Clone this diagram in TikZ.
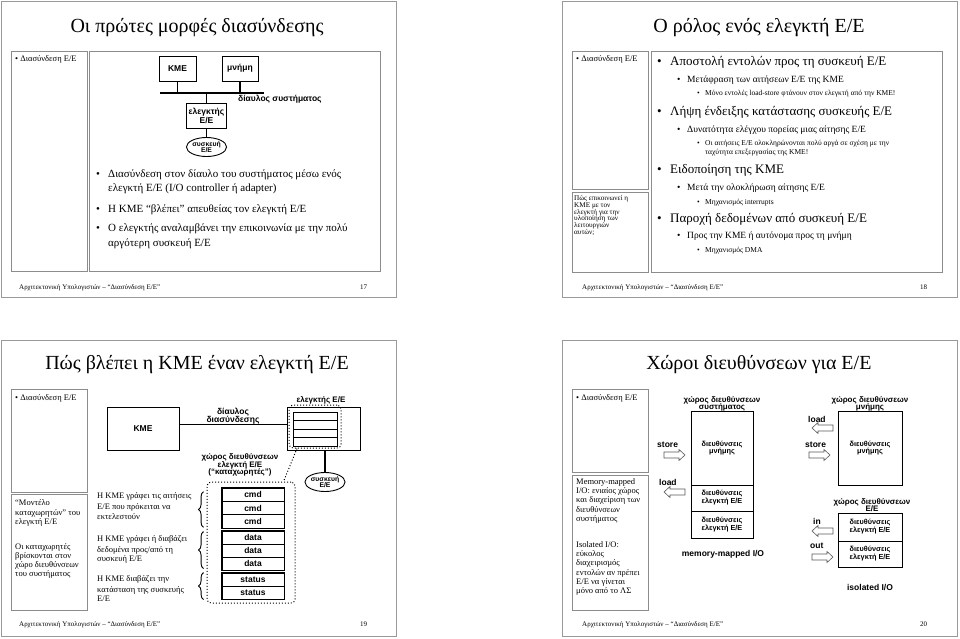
\documentclass[tikz,border=0pt]{standalone}
\usepackage{fontspec}
\setmainfont{Liberation Serif}
\newfontfamily\lsans{Liberation Sans}
\usetikzlibrary{decorations.pathreplacing,shapes.geometric}
\newcommand{\harrR}[1]{\draw[hollow] (#1) ++(0,-3) -- ++(15,0) -- ++(0,-2.5) -- ++(6,5.5) -- ++(-6,5.5) -- ++(0,-2.5) -- ++(-15,0) -- cycle;}
\newcommand{\harrL}[1]{\draw[hollow] (#1) ++(0,-3) -- ++(-15,0) -- ++(0,-2.5) -- ++(-6,5.5) -- ++(6,5.5) -- ++(0,-2.5) -- ++(15,0) -- cycle;}
\begin{document}
\begin{tikzpicture}[x=1pt,y=-1pt,
  frame/.style={draw=black!40,line width=1},
  pbox/.style={draw=black!45,line width=0.7},
  ttl/.style={anchor=base,inner sep=0,font=\fontsize{20}{24}\selectfont},
  foot/.style={anchor=base west,inner sep=0,font=\fontsize{7}{8}\selectfont},
  side/.style={anchor=base west,inner sep=0,font=\fontsize{8.5}{9}\selectfont},
  note/.style={anchor=base west,inner sep=0,font=\fontsize{8.5}{9}\selectfont},
  qst/.style={anchor=base west,inner sep=0,font=\fontsize{7.2}{7}\selectfont},
  body/.style={anchor=base west,inner sep=0,font=\fontsize{11}{13}\selectfont},
  lvA/.style={anchor=base west,inner sep=0,font=\fontsize{13}{15}\selectfont},
  lvB/.style={anchor=base west,inner sep=0,font=\fontsize{9.5}{11}\selectfont},
  lvC/.style={anchor=base west,inner sep=0,font=\fontsize{7.5}{9}\selectfont},
  lab/.style={inner sep=0,align=center,font=\lsans\bfseries\fontsize{8.5}{7}\selectfont},
  lab2/.style={inner sep=0,align=center,font=\lsans\bfseries\fontsize{8}{7}\selectfont},
  blk/.style={draw,line width=0.9,inner sep=0,align=center,font=\lsans\bfseries\fontsize{8.5}{7}\selectfont},
  dev/.style={draw,ellipse,line width=0.9,inner sep=0,align=center,minimum width=40pt,minimum height=19pt,font=\lsans\bfseries\fontsize{6.8}{6.5}\selectfont},
  reg/.style={draw,line width=0.9,inner sep=0,minimum width=62pt,minimum height=13.3pt,font=\lsans\bfseries\fontsize{8.5}{9}\selectfont},
  rrow/.style={draw,line width=0.8,inner sep=0,minimum width=44pt,minimum height=8.5pt},
  abox/.style={draw,line width=0.9,inner sep=0,align=center,minimum width=62pt,font=\lsans\bfseries\fontsize{7.3}{6.5}\selectfont},
  conn/.style={line width=1.2},
  hollow/.style={draw=black!65,fill=white,line width=0.6},
  dots/.style={draw,dotted,line width=1,rounded corners=4pt},
  brc/.style={decorate,decoration={brace,amplitude=5pt},line width=0.9},
]
\useasboundingbox (0,0) rectangle (960,638);

% ---------------- Slide 17 ----------------
\draw[frame] (1,1) rectangle (396,297);
\node[ttl] (t1) at (197,32) {Οι πρώτες μορφές διασύνδεσης};
\draw[pbox] (11,51) rectangle (87,271);
\draw[pbox] (89,51) rectangle (380,271);
\node[side] (s1) at (15,61) {• Διασύνδεση Ε/Ε};
\node[blk,minimum width=37pt,minimum height=25pt] (kme1) at (177.5,68.5) {ΚΜΕ};
\node[blk,minimum width=36pt,minimum height=25pt] (mem1) at (240,68.5) {μνήμη};
\coordinate (busL) at (160,93);
\coordinate (busR) at (264,93);
\draw[line width=2] (busL) -- (busR);
\node[lab,anchor=base west] (bus1) at (238,101) {δίαυλος συστήματος};
\draw[conn] (kme1.south) -- (kme1.south |- busL);
\draw[conn] (mem1.south) -- (mem1.south |- busL);
\node[blk,minimum width=40pt,minimum height=25pt] (ctl1) at (206.5,115.5) {ελεγκτής\\Ε/Ε};
\draw[conn] (ctl1.north |- busL) -- (ctl1.north);
\node[dev] (dev1) at (206.5,147) {συσκευή\\Ε/Ε};
\draw[conn] (ctl1.south) -- (dev1.north);
\node[body] (b1) at (96,177) {•};
\node[body] (b1a) at (108,177) {Διασύνδεση στον δίαυλο του συστήματος μέσω ενός};
\node[body] (b1b) at (108,191) {ελεγκτή Ε/Ε (I/O controller ή adapter)};
\node[body] (b2) at (96,212) {•};
\node[body] (b2a) at (108,212) {Η ΚΜΕ “βλέπει” απευθείας τον ελεγκτή Ε/Ε};
\node[body] (b3) at (96,231) {•};
\node[body] (b3a) at (108,231) {Ο ελεγκτής αναλαμβάνει την επικοινωνία με την πολύ};
\node[body] (b3b) at (108,246) {αργότερη συσκευή Ε/Ε};
\node[foot] (f1) at (19,289) {Αρχιτεκτονική Υπολογιστών – “Διασύνδεση Ε/Ε”};
\node[foot] (n1) at (360,289) {17};

% ---------------- Slide 18 ----------------
\draw[frame] (562,1) rectangle (957,297);
\node[ttl] (t2) at (759,32) {Ο ρόλος ενός ελεγκτή Ε/Ε};
\draw[pbox] (572,51) rectangle (648,189);
\draw[pbox] (572,192) rectangle (648,272);
\draw[pbox] (651,51) rectangle (942,272);
\node[side] (s2) at (576,61) {• Διασύνδεση Ε/Ε};
\node[qst] (q1) at (574,200) {Πώς επικοινωνεί η};
\node[qst] (q2) at (574,207) {ΚΜΕ με τον};
\node[qst] (q3) at (574,214) {ελεγκτή για την};
\node[qst] (q4) at (574,220.7) {υλοποίηση των};
\node[qst] (q5) at (574,227.3) {λειτουργιών};
\node[qst] (q6) at (574,234) {αυτών;};
\node[lvA] (a1) at (657,65) {•};
\node[lvA] (a1t) at (670,65) {Αποστολή εντολών προς τη συσκευή Ε/Ε};
\node[lvB] (a2) at (677,82) {•};
\node[lvB] (a2t) at (687,82) {Μετάφραση των αιτήσεων Ε/Ε της ΚΜΕ};
\node[lvC] (a3) at (697,95) {•};
\node[lvC] (a3t) at (705,95) {Μόνο εντολές load-store φτάνουν στον ελεγκτή από την ΚΜΕ!};
\node[lvA] (b1x) at (657,115) {•};
\node[lvA] (b1t) at (670,115) {Λήψη ένδειξης κατάστασης συσκευής Ε/Ε};
\node[lvB] (b2x) at (677,132) {•};
\node[lvB] (b2t) at (687,132) {Δυνατότητα ελέγχου πορείας μιας αίτησης Ε/Ε};
\node[lvC] (b3x) at (697,145) {•};
\node[lvC] (b3t) at (705,145) {Οι αιτήσεις Ε/Ε ολοκληρώνονται πολύ αργά σε σχέση με την};
\node[lvC] (b3u) at (705,154) {ταχύτητα επεξεργασίας της ΚΜΕ!};
\node[lvA] (c1x) at (657,173) {•};
\node[lvA] (c1t) at (670,173) {Ειδοποίηση της ΚΜΕ};
\node[lvB] (c2x) at (677,190) {•};
\node[lvB] (c2t) at (687,190) {Μετά την ολοκλήρωση αίτησης Ε/Ε};
\node[lvC] (c3x) at (697,204) {•};
\node[lvC] (c3t) at (705,204) {Μηχανισμός interrupts};
\node[lvA] (d1x) at (657,222) {•};
\node[lvA] (d1t) at (670,222) {Παροχή δεδομένων από συσκευή Ε/Ε};
\node[lvB] (d2x) at (677,238) {•};
\node[lvB] (d2t) at (687,238) {Προς την ΚΜΕ ή αυτόνομα προς τη μνήμη};
\node[lvC] (d3x) at (697,252) {•};
\node[lvC] (d3t) at (705,252) {Μηχανισμός DMA};
\node[foot] (f2) at (582,289) {Αρχιτεκτονική Υπολογιστών – “Διασύνδεση Ε/Ε”};
\node[foot] (n2) at (920,289) {18};

% ---------------- Slide 19 ----------------
\draw[frame] (1,340) rectangle (396,636);
\node[ttl] (t3) at (197,369) {Πώς βλέπει η ΚΜΕ έναν ελεγκτή Ε/Ε};
\draw[pbox] (11,389) rectangle (87,492);
\draw[pbox] (11,494) rectangle (87,610);
\node[side] (s3) at (15,400) {• Διασύνδεση Ε/Ε};
\node[note] (m1) at (15,505.5) {“Μοντέλο};
\node[note] (m2) at (15,515) {καταχωρητών” του};
\node[note] (m3) at (15,524.5) {ελεγκτή Ε/Ε};
\node[note] (m4) at (15,549.5) {Οι καταχωρητές};
\node[note] (m5) at (15,558.5) {βρίσκονται στον};
\node[note] (m6) at (15,567.5) {χώρο διευθύνσεων};
\node[note] (m7) at (15,576.5) {του συστήματος};
\node[blk,minimum width=72pt,minimum height=43pt] (kme3) at (143,428.5) {ΚΜΕ};
\node[draw,line width=0.9,minimum width=73pt,minimum height=43pt,inner sep=0] (ctl3) at (323.5,428.5) {};
\draw[conn] ([yshift=4pt]kme3.east) -- ([yshift=4pt]ctl3.west);
\node[lab,anchor=base] (d3a) at (233,414.5) {δίαυλος};
\node[lab,anchor=base] (d3b) at (233,422) {διασύνδεσης};
\node[lab2,anchor=base] (c3l) at (321,402.5) {ελεγκτής Ε/Ε};
\node[rrow] (r1) at (315,416.25) {};
\node[rrow] (r2) at (315,424.75) {};
\node[rrow] (r3) at (315,433.25) {};
\node[rrow] (r4) at (315,441.75) {};
\node[dots,minimum width=52pt,minimum height=43pt,inner sep=0] (regs) at (315,426.5) {};
\node[dev] (dev3) at (325,482) {συσκευή\\Ε/Ε};
\draw[conn] (dev3.north |- ctl3.south) -- (dev3.north);
\node[lab2,anchor=base] (x1) at (240,459.5) {χώρος διευθύνσεων};
\node[lab2,anchor=base] (x2) at (240,467) {ελεγκτή Ε/Ε};
\node[lab2,anchor=base] (x3) at (240,474.5) {(“καταχωρητές”)};
\node[dots,minimum width=88pt,minimum height=121pt,inner sep=0] (bigd) at (251,542.5) {};
\draw[dotted,line width=1] ([xshift=-18pt]regs.south) -- ([xshift=-12pt]bigd.north east);
\node[reg] (g1) at (253,494.7) {cmd};
\node[reg] (g2) at (253,508) {cmd};
\node[reg] (g3) at (253,521.3) {cmd};
\node[reg,minimum height=13pt] (h1) at (253,537.5) {data};
\node[reg,minimum height=13pt] (h2) at (253,550.5) {data};
\node[reg,minimum height=13pt] (h3) at (253,563.5) {data};
\node[reg,minimum height=13pt] (k1) at (253,579.5) {status};
\node[reg,minimum height=13pt] (k2) at (253,592.5) {status};
\draw[line width=1.3] (g1.north west) rectangle (g3.south east);
\draw[line width=1.3] (h1.north west) rectangle (h3.south east);
\draw[line width=1.3] (k1.north west) rectangle (k2.south east);
\draw[brc] ([xshift=-18pt,yshift=1pt]g3.south west) -- ([xshift=-18pt,yshift=-4pt]g1.north west);
\draw[brc] ([xshift=-18pt,yshift=2pt]h3.south west) -- ([xshift=-18pt,yshift=-1pt]h1.north west);
\draw[brc] ([xshift=-18pt]k2.south west) -- ([xshift=-18pt]k1.north west);
\node[note] (p1) at (97,498) {Η ΚΜΕ γράφει τις αιτήσεις};
\node[note] (p2) at (97,509) {Ε/Ε που πρόκειται να};
\node[note] (p3) at (97,519) {εκτελεστούν};
\node[note] (p4) at (97,541) {Η ΚΜΕ γράφει ή διαβάζει};
\node[note] (p5) at (97,552) {δεδομένα προς/από τη};
\node[note] (p6) at (97,561) {συσκευή Ε/Ε};
\node[note] (p7) at (97,581) {Η ΚΜΕ διαβάζει την};
\node[note] (p8) at (97,592) {κατάσταση της συσκευής};
\node[note] (p9) at (97,601) {Ε/Ε};
\node[foot] (f3) at (19,626) {Αρχιτεκτονική Υπολογιστών – “Διασύνδεση Ε/Ε”};
\node[foot] (n3) at (360,626) {19};

% ---------------- Slide 20 ----------------
\draw[frame] (562,340) rectangle (957,636);
\node[ttl] (t4) at (759,369) {Χώροι διευθύνσεων για Ε/Ε};
\draw[pbox] (572,389) rectangle (648,472);
\draw[pbox] (572,475) rectangle (648,610);
\node[side] (s4) at (576,400) {• Διασύνδεση Ε/Ε};
\node[note] (w1) at (576,484.5) {Memory-mapped};
\node[note] (w2) at (576,493.7) {I/O: ενιαίος χώρος};
\node[note] (w3) at (576,502.9) {και διαχείριση των};
\node[note] (w4) at (576,512) {διευθύνσεων};
\node[note] (w5) at (576,521.2) {συστήματος};
\node[note] (w6) at (576,547.5) {Isolated I/O:};
\node[note] (w7) at (576,556.7) {εύκολος};
\node[note] (w8) at (576,565.9) {διαχειρισμός};
\node[note] (w9) at (576,575) {εντολών αν πρέπει};
\node[note] (w10) at (576,584.2) {Ε/Ε να γίνεται};
\node[note] (w11) at (576,593.4) {μόνο από το ΛΣ};
% memory-mapped
\node[abox,minimum height=74pt] (mm) at (722,448) {διευθύνσεις\\μνήμης};
\node[abox,minimum height=26pt] (mc1) at (722,498) {διευθύνσεις\\ελεγκτή Ε/Ε};
\node[abox,minimum height=27pt] (mc2) at (722,524.5) {διευθύνσεις\\ελεγκτή Ε/Ε};
\node[lab2,anchor=base] (ml1) at (722,402) {χώρος διευθύνσεων};
\node[lab2,anchor=base] (ml2) at (722,409.5) {συστήματος};
\node[lab,anchor=base west] (st1) at (657,447) {store};
\harrR{664,455}
\node[lab,anchor=base west] (ld1) at (659,485.5) {load};
\harrL{685,492}
\node[lab,anchor=base] (mmio) at (723,556) {memory-mapped I/O};
% isolated
\node[abox,minimum width=64pt,minimum height=74pt] (im) at (870,448) {διευθύνσεις\\μνήμης};
\node[lab2,anchor=base] (il1) at (870,402) {χώρος διευθύνσεων};
\node[lab2,anchor=base] (il2) at (870,409.5) {μνήμης};
\node[lab,anchor=base west] (ld2) at (808,422) {load};
\harrL{833,428}
\node[lab,anchor=base west] (st2) at (805,447) {store};
\harrR{809,455}
\node[lab2,anchor=base] (el1) at (872,504) {χώρος διευθύνσεων};
\node[lab2,anchor=base] (el2) at (872,511.5) {Ε/Ε};
\node[abox,minimum width=64pt,minimum height=28pt] (io1) at (870,527) {διευθύνσεις\\ελεγκτή Ε/Ε};
\node[abox,minimum width=64pt,minimum height=26pt] (io2) at (870,554) {διευθύνσεις\\ελεγκτή Ε/Ε};
\node[lab,anchor=base west] (in1) at (813,524) {in};
\harrL{833,531}
\node[lab,anchor=base west] (out1) at (810,548) {out};
\harrR{812,557}
\node[lab,anchor=base] (isio) at (870,590) {isolated I/O};
\node[foot] (f4) at (582,626) {Αρχιτεκτονική Υπολογιστών – “Διασύνδεση Ε/Ε”};
\node[foot] (n4) at (920,626) {20};
\end{tikzpicture}
\end{document}
